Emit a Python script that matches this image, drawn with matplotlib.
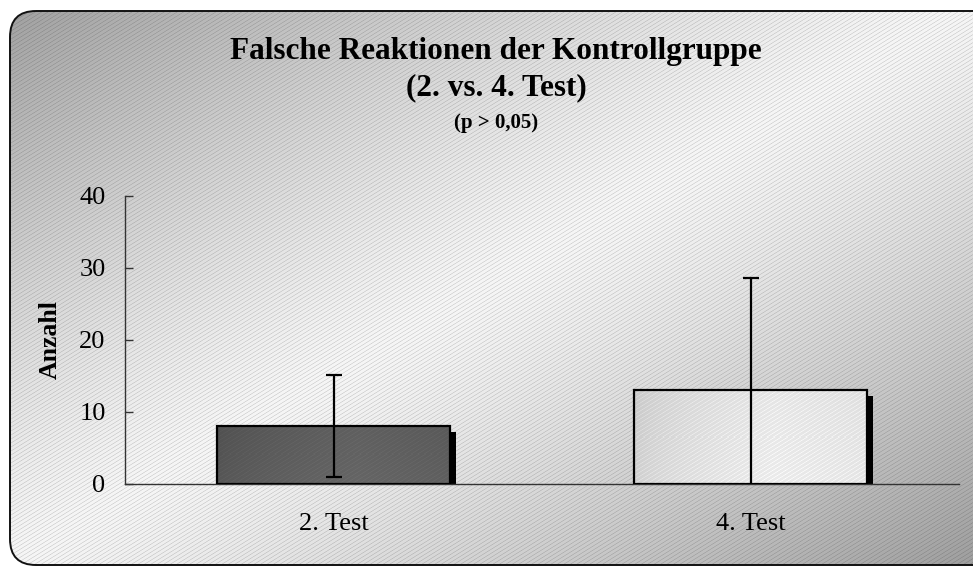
import numpy as np
import matplotlib
matplotlib.use("Agg")
import matplotlib.pyplot as plt
from matplotlib.patches import FancyBboxPatch
from matplotlib.transforms import ScaledTranslation

# Data
categories = ["2. Test", "4. Test"]
means = [8.1, 13.0]
sd = [7.1, 15.6]
y_ticks = [0, 10, 20, 30, 40]

title_lines = ["Falsche Reaktionen der Kontrollgruppe", "(2. vs. 4. Test)"]
subtitle = "(p > 0,05)"
y_label = "Anzahl"

plt.rcParams["font.family"] = ["Liberation Serif", "DejaVu Serif"]

W, H, DPI = 973, 567, 100
fig = plt.figure(figsize=(W / DPI, H / DPI), dpi=DPI)
fig.patch.set_facecolor("white")

# ---- chart-area panel: diagonal gradient with fine hatch, rounded frame ----
bg = fig.add_axes([0, 0, 1, 1], zorder=0)
bg.set_xlim(0, W)
bg.set_ylim(H, 0)
bg.axis("off")
yy, xx = np.mgrid[0:H, 0:W].astype(float)
t = (xx / W + yy / H) / 2
shade = 246 - 88 * np.abs(2 * t - 1) ** 1.25
phase = (yy + 0.62 * xx) % 4.0
stripe = np.clip(1 - np.abs(phase - 1.0) / 0.9, 0, 1)
val = shade * (1 - 0.14 * stripe)
img = np.dstack([val] * 3) / 255.0
bg_im = bg.imshow(img, extent=(0, W, H, 0), interpolation="nearest", aspect="auto")
frame = FancyBboxPatch((10, 11), 990, 554,
                       boxstyle="round,pad=0,rounding_size=26",
                       facecolor="none", edgecolor="#111111", linewidth=1.4)
bg.add_patch(frame)
bg_im.set_clip_path(frame)

# ---- plot axes ----
ax_left, ax_right, ax_top, ax_bottom = 125, 959, 196, 484
ax = fig.add_axes([ax_left / W, (H - ax_bottom) / H,
                   (ax_right - ax_left) / W, (ax_bottom - ax_top) / H], zorder=1)
ax.patch.set_visible(False)
x = np.arange(len(categories))
bar_w = 0.56
ax.set_xlim(-0.5, len(categories) - 0.5)
ax.set_ylim(0, 40)

# drop shadows
shadow_tf = ax.transData + ScaledTranslation(6 / DPI, -6 / DPI, fig.dpi_scale_trans)
ax.bar(x, means, width=bar_w, color="black", zorder=2, transform=shadow_tf)

bars = ax.bar(x, means, width=bar_w, facecolor="none", edgecolor="black",
              linewidth=1.6, zorder=3)

# gradient fills (left, middle, right grey levels)
px_per_x = (ax_right - ax_left) / 2.0
px_per_y = (ax_bottom - ax_top) / 40.0
fills = [(82, 98, 92), (202, 232, 226)]
for b, (c_left, c_mid, c_right) in zip(bars, fills):
    x0, y0 = b.get_x(), b.get_y()
    w, h = b.get_width(), b.get_height()
    nx = max(int(w * px_per_x), 2)
    ny = max(int(h * px_per_y), 2)
    gy, gx = np.mgrid[0:ny, 0:nx].astype(float)
    u = gx / (nx - 1)
    v = gy / (ny - 1)  # 0 at bottom
    base = np.where(u < 0.6, c_left + (c_mid - c_left) * (u / 0.6) ** 0.6,
                    c_mid + (c_right - c_mid) * ((u - 0.6) / 0.4))
    base = base + 6 * (0.5 - v)
    ph = ((ny - gy) + 0.62 * gx) % 4.0
    st = np.clip(1 - np.abs(ph - 1.0) / 0.9, 0, 1)
    g = np.clip(base * (1 + 0.08 * st), 0, 255) / 255.0
    im = ax.imshow(np.dstack([g] * 3), extent=(x0, x0 + w, y0, y0 + h),
                   origin="lower", aspect="auto", interpolation="nearest", zorder=2.5)
    im.set_clip_path(b)

ax.set_xlim(-0.5, len(categories) - 0.5)
ax.set_ylim(0, 40)

ax.errorbar(x, means, yerr=sd, fmt="none", ecolor="black", elinewidth=1.6,
            capsize=5.5, capthick=1.6, zorder=4)

for s in ["top", "right"]:
    ax.spines[s].set_visible(False)
ax.spines["left"].set_color("#333333")
ax.spines["bottom"].set_color("#333333")
ax.spines["left"].set_linewidth(1.0)
ax.spines["bottom"].set_linewidth(1.0)

ax.set_yticks(y_ticks)
ax.set_yticklabels([str(v) for v in y_ticks])
ax.set_xticks(x)
ax.set_xticklabels(categories)
ax.tick_params(axis="y", direction="in", length=6, width=1, color="#333333",
               pad=14, labelsize=19)
ax.tick_params(axis="x", length=0, pad=21, labelsize=19)

ax.set_ylabel(y_label, fontsize=18.5, fontweight="bold")
ax.yaxis.set_label_coords(-0.0755, 0.5)

cx = 496 / W
fig.text(cx, 1 - 51 / H, title_lines[0], ha="center", va="center",
         fontsize=22.5, fontweight="bold")
fig.text(cx, 1 - 88 / H, title_lines[1], ha="center", va="center",
         fontsize=22.5, fontweight="bold")
fig.text(cx, 1 - 123 / H, subtitle, ha="center", va="center",
         fontsize=15, fontweight="bold")

fig.savefig("out.png", dpi=DPI, facecolor="white")
